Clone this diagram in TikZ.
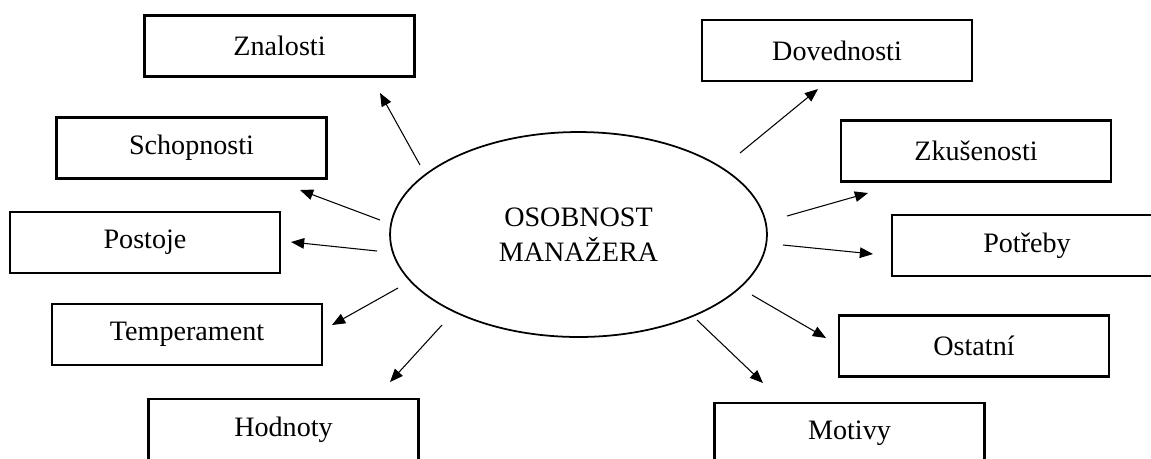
\documentclass[tikz,border=0pt]{standalone}
\usepackage{fontspec}
\setmainfont{Liberation Serif}
\usetikzlibrary{arrows.meta,shapes.geometric}

\tikzset{
  box/.style={draw, line width=1.3pt, minimum width=5.4cm, minimum height=1.22cm, inner sep=0pt},
  core/.style={draw, ellipse, line width=1pt, minimum width=7.54cm, minimum height=4.1cm, inner sep=0pt, align=center},
  arr/.style={line width=0.6pt, -{Triangle[length=7.5pt,width=6pt]}}
}

\begin{document}
\begin{tikzpicture}[x=0.02cm, y=-0.02cm, every node/.style={font=\fontsize{16}{20}\selectfont}]
    \useasboundingbox (0,0) rectangle (1151,458);
    \clip (0,0) rectangle (1151,458);
    \node [core] (osob) at (578.5,234.5) {OSOBNOST\\MANAŽERA};
    % left side
    \node [box] (znal) at (279.5,46) {Znalosti};
    \node [box] (schop) at (191.5,148) {Schopnosti};
    \node [box] (post) at (145,242.5) {Postoje};
    \node [box] (temp) at (187,334.5) {Temperament};
    \node [box] (hodn) at (283.5,429.5) {Hodnoty};
    % right side
    \node [box] (dove) at (837,50.5) {Dovednosti};
    \node [box] (zkus) at (976,151) {Zkušenosti};
    \node [box] (potr) at (1027,245.5) {Potřeby};
    \node [box] (osta) at (974,346) {Ostatní};
    \node [box] (moti) at (849.5,433.5) {Motivy};
    \coordinate (S0) at (420,165);
    \coordinate (T0) at (380,93);
    \coordinate (S1) at (380,220);
    \coordinate (T1) at (300,190);
    \coordinate (S2) at (377,251);
    \coordinate (T2) at (291,242);
    \coordinate (S3) at (398,288);
    \coordinate (T3) at (332,325);
    \coordinate (S4) at (442,325);
    \coordinate (T4) at (390,382);
    \coordinate (S5) at (740,153);
    \coordinate (T5) at (818,89);
    \coordinate (S6) at (787,216);
    \coordinate (T6) at (868,193);
    \coordinate (S7) at (783,245);
    \coordinate (T7) at (873,254);
    \coordinate (S8) at (752,295);
    \coordinate (T8) at (826,338);
    \coordinate (S9) at (697,320);
    \coordinate (T9) at (763,383);
      \draw [arr] (S0) -- (T0);
      \draw [arr] (S1) -- (T1);
      \draw [arr] (S2) -- (T2);
      \draw [arr] (S3) -- (T3);
      \draw [arr] (S4) -- (T4);
      \draw [arr] (S5) -- (T5);
      \draw [arr] (S6) -- (T6);
      \draw [arr] (S7) -- (T7);
      \draw [arr] (S8) -- (T8);
      \draw [arr] (S9) -- (T9);
\end{tikzpicture}
\end{document}
